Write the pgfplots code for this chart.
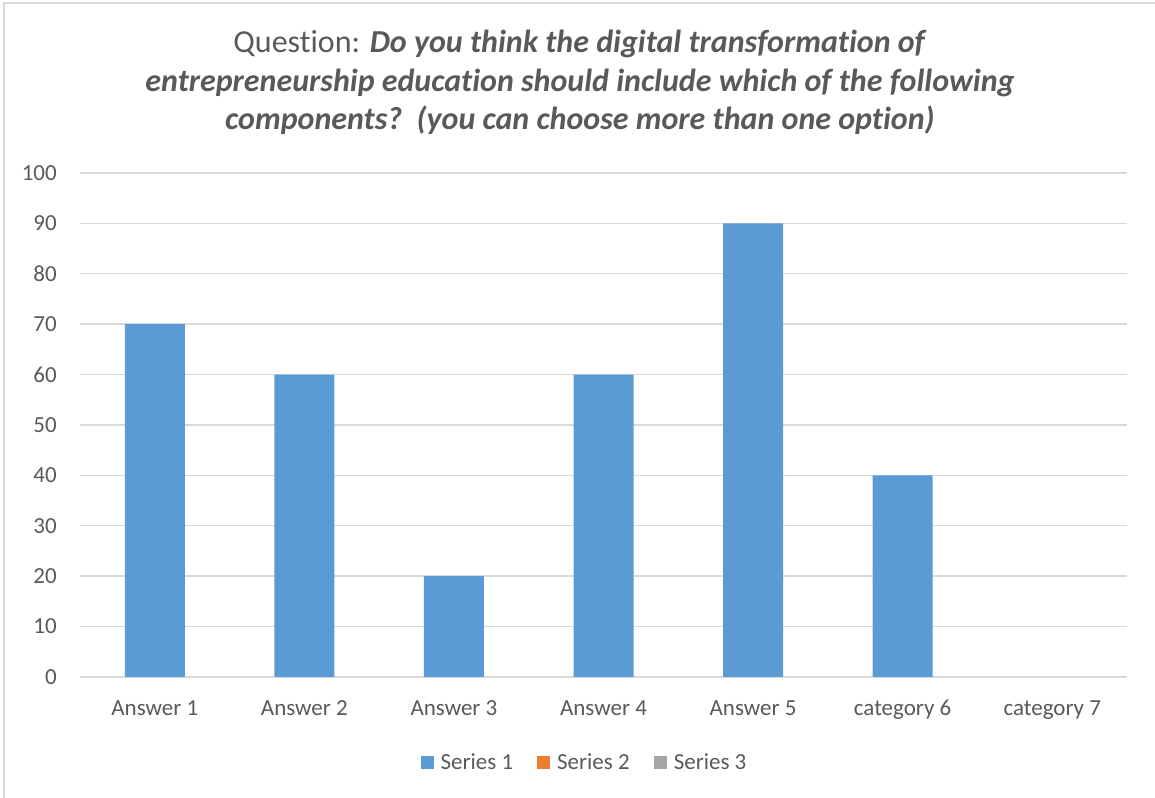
\documentclass[border=0pt]{standalone}
\usepackage{pgfplots}
\pgfplotsset{compat=1.18}
\usepackage{fontspec}
\setmainfont{Carlito}[Ligatures={NoCommon,NoContextual,NoRare}]
\definecolor{txt}{HTML}{595959}
\definecolor{bar1}{HTML}{5B9BD5}
\definecolor{bar2}{HTML}{ED7D31}
\definecolor{bar3}{HTML}{A5A5A5}
\definecolor{grd}{HTML}{D9D9D9}
\newcommand{\nl}{\kern0pt }
\begin{document}
\begin{tikzpicture}[x=1bp,y=1bp]
\path[use as bounding box] (0bp,0bp) rectangle (1155bp,798bp);
\draw[grd, line width=1.5bp] (4bp,0bp) -- (4bp,795bp) -- (1155bp,795bp);
\begin{scope}[every node/.style={anchor=base, text=txt, inner sep=0, font=\fontsize{32bp}{38bp}\selectfont}]
\node at (580bp,745bp) {Quest\nl ion: \textbf{\textit{Do you think the digital transformat\nl ion of}}};
\node at (580bp,706.5bp) {\textbf{\textit{entrepreneurship education should include which of the following}}};
\node at (580bp,668bp) {\textbf{\textit{components?\ \ (you can choose more than one opt\nl ion)}}};
\end{scope}
\begin{axis}[
  at={(80bp,121bp)}, anchor=south west,
  width=1047bp, height=504bp, scale only axis,
  ybar, bar width=60bp,
  xmin=-0.5, xmax=6.5, ymin=0, ymax=100,
  xtick={0,1,2,3,4,5,6},
  xticklabels={Answer 1, Answer 2, Answer 3, Answer 4, Answer 5, category 6, category 7},
  ytick={0,10,...,100},
  ymajorgrids, major grid style={grd, line width=1.4bp},
  axis line style={draw=none},
  major tick length=0,
  /pgf/number format/assume math mode=true,
  tick label style={text=txt, font=\fontsize{23bp}{27bp}\selectfont, inner sep=0},
  xticklabel style={anchor=base, yshift=-38bp},
  yticklabel style={anchor=east, xshift=-23bp},
  legend columns=3,
  legend style={at={(0.4823,-0.1687)}, anchor=center, draw=none, fill=none,
    font=\fontsize{23bp}{27bp}\selectfont, text=txt,
    /tikz/every even column/.append style={column sep=21bp},
    nodes={inner sep=3bp}},
  legend image code/.code={\fill[#1] (0bp,-6.5bp) rectangle (13bp,6.5bp); \path (17bp,0bp);},
]
\addplot[fill=bar1, draw=none] coordinates {(0,70) (1,60) (2,20) (3,60) (4,90) (5,40)};
\addlegendentry{Series 1}
\addlegendimage{fill=bar2, draw=none}
\addlegendentry{Series 2}
\addlegendimage{fill=bar3, draw=none}
\addlegendentry{Series 3}
\end{axis}
\end{tikzpicture}
\end{document}
